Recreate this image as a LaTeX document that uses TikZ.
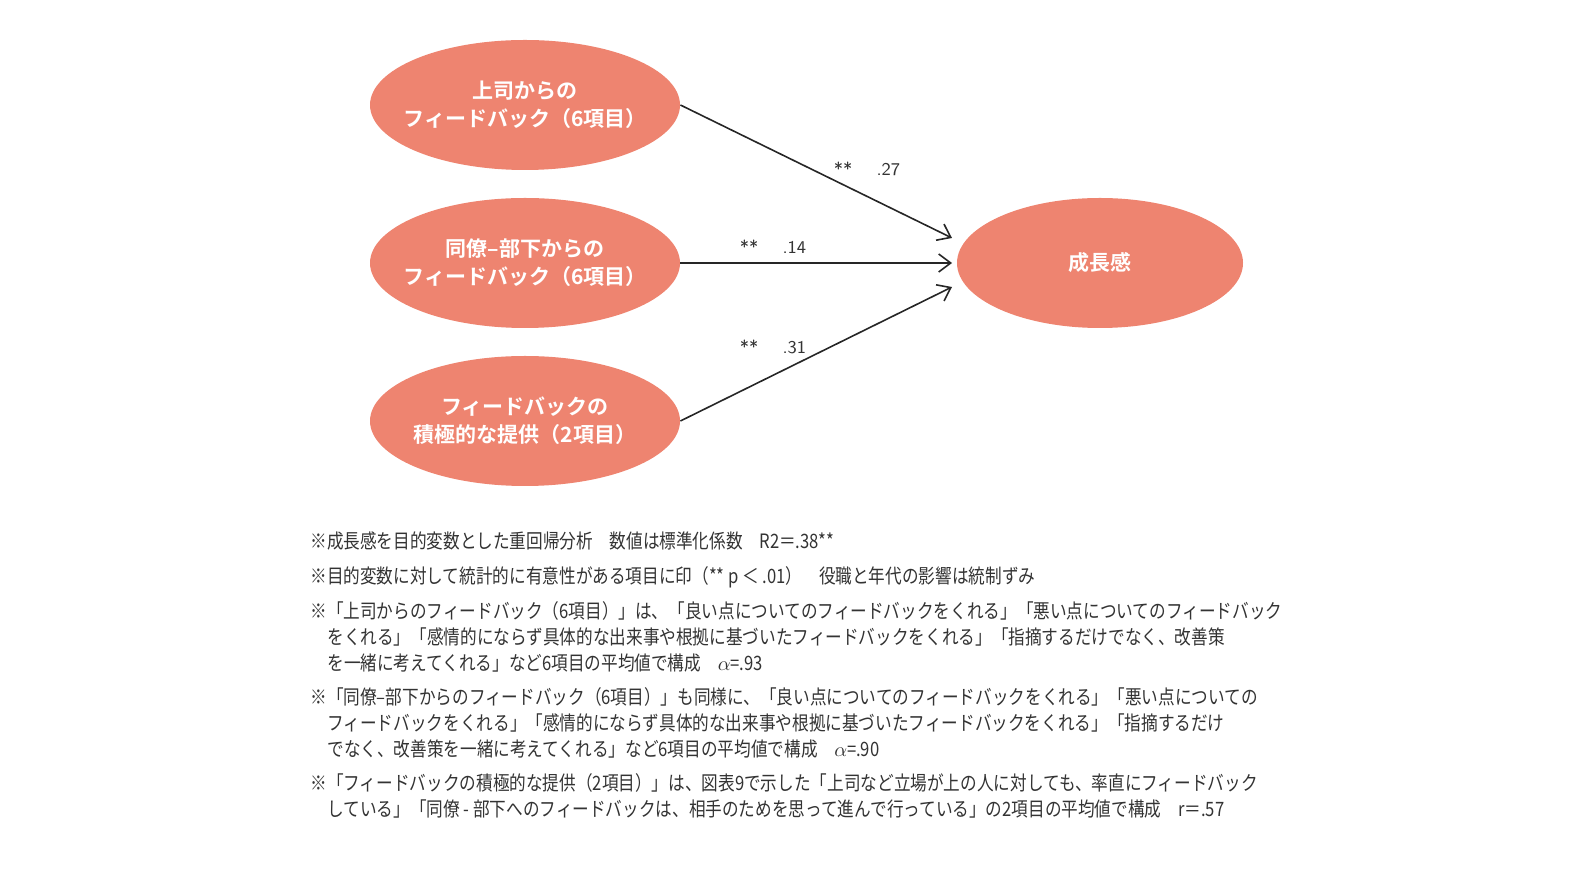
\documentclass[tikz,border=0pt]{standalone}
\usepackage{fontspec}
\newfontfamily\cjkb[BoldFont={* Bold}]{Noto Sans CJK JP}
\newfontfamily\notef[FakeStretch=0.84]{Noto Sans CJK JP}
\definecolor{salmon}{HTML}{EE8470}
\definecolor{txt}{HTML}{333333}
\usetikzlibrary{shapes.geometric,arrows.meta}
\tikzset{
  oval/.style={ellipse, fill=salmon, minimum width=155pt, minimum height=65pt, inner sep=0pt},
  ovaltext/.style={align=center, text=white, inner sep=0pt, font=\cjkb\bfseries\fontsize{10.5}{14}\selectfont},
  arr/.style={-{Straight Barb[length=6pt,width=9pt]}, line width=0.8pt, black!85},
  coef/.style={font=\fontfamily{lmss}\fontsize{9}{10}\selectfont, text=txt},
  note/.style={anchor=west, inner sep=0pt, text=txt, font=\notef\fontsize{9.9}{11}\selectfont}
}
\begin{document}
\begin{tikzpicture}[x=0.5pt,y=-0.5pt]
\useasboundingbox (0,0) rectangle (1580,886);
\node[oval] (a) at (525,105) {};
\node[oval] (b) at (525,263) {};
\node[oval] (c) at (525,421) {};
\node[oval, minimum width=143pt] (d) at (1100,263) {};
\node[ovaltext] (ta) at (a) {上司からの\\フィードバック（6項目）};
\node[ovaltext] (tb) at (b) {同僚–部下からの\\フィードバック（6項目）};
\node[ovaltext] (tc) at (c) {フィードバックの\\積極的な提供（2項目）};
\node[ovaltext] (td) at (d) {成長感};
\coordinate (d1) at (952,238);
\coordinate (d2) at (952,263);
\coordinate (d3) at (952,287);
\draw[arr] (a.east) -- (d1);
\draw[arr] (b.east) -- (d2);
\draw[arr] (c.east) -- (d3);
\node[coef] (l1) at (867,169) {**\quad\ .27};
\node[coef] (l2) at (773,247) {**\quad\ .14};
\node[coef] (l3) at (773,347) {**\quad\ .31};
\node[note] (n1) at (310,541) {※成長感を目的変数とした重回帰分析　数値は標準化係数　R2＝.38**};
\node[note] (n2) at (310,577) {※目的変数に対して統計的に有意性がある項目に印（** p ＜ .01）　役職と年代の影響は統制ずみ};
\node[note] (n3) at (310,611) {※「上司からのフィードバック（6項目）」は、「良い点についてのフィードバックをくれる」「悪い点についてのフィードバック};
\node[note] (n4) at (327,637) {をくれる」「感情的にならず具体的な出来事や根拠に基づいたフィードバックをくれる」「指摘するだけでなく、改善策};
\node[note] (n5) at (327,663) {を一緒に考えてくれる」など6項目の平均値で構成　$\alpha$=.93};
\node[note] (n6) at (310,697) {※「同僚–部下からのフィードバック（6項目）」も同様に、「良い点についてのフィードバックをくれる」「悪い点についての};
\node[note] (n7) at (327,723) {フィードバックをくれる」「感情的にならず具体的な出来事や根拠に基づいたフィードバックをくれる」「指摘するだけ};
\node[note] (n8) at (327,749) {でなく、改善策を一緒に考えてくれる」など6項目の平均値で構成　$\alpha$=.90};
\node[note] (n9) at (310,783) {※「フィードバックの積極的な提供（2項目）」は、図表9で示した「上司など立場が上の人に対しても、率直にフィードバック};
\node[note] (n10) at (327,809) {している」「同僚 - 部下へのフィードバックは、相手のためを思って進んで行っている」の2項目の平均値で構成　r＝.57};
\end{tikzpicture}
\end{document}
